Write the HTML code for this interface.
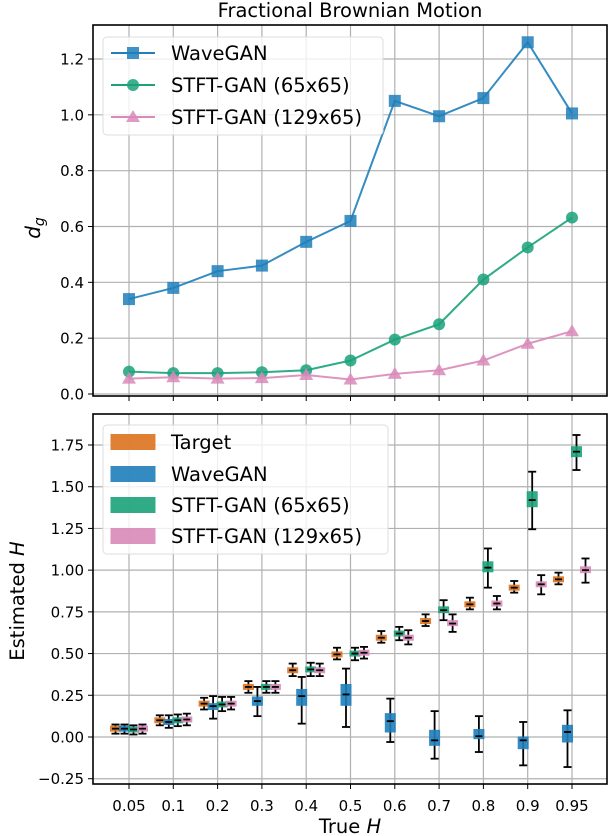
<!DOCTYPE html>
<html><head><meta charset="utf-8"><style>
html,body{margin:0;padding:0;background:#fff;}
svg{display:block;font-family:"DejaVu Sans","Liberation Sans",sans-serif;}
</style></head><body>
<svg id="chart" width="608" height="836" viewBox="0 0 608 836" xmlns="http://www.w3.org/2000/svg">
<text x="350" y="17" font-size="19.5" text-anchor="middle">Fractional Brownian Motion</text>
<g id="topPanel"></g>
<g id="botPanel"></g>
</svg>
<script>
const categories = ["0.05","0.1","0.2","0.3","0.4","0.5","0.6","0.7","0.8","0.9","0.95"];
const waveganDg = [0.34,0.38,0.44,0.46,0.545,0.62,1.05,0.995,1.06,1.26,1.005];
const stft65Dg = [0.08,0.075,0.075,0.078,0.085,0.12,0.195,0.25,0.41,0.525,0.632];
const stft129Dg = [0.055,0.06,0.055,0.057,0.068,0.052,0.072,0.085,0.12,0.18,0.225];
const topYTicks = [0.0,0.2,0.4,0.6,0.8,1.0,1.2];
const topYTickLabels = ["0.0","0.2","0.4","0.6","0.8","1.0","1.2"];
const botYTicks = [-0.25,0,0.25,0.5,0.75,1.0,1.25,1.5,1.75];
const botYTickLabels = ["\u22120.25","0.00","0.25","0.50","0.75","1.00","1.25","1.50","1.75"];
const targetMed = [0.05,0.10,0.20,0.30,0.40,0.495,0.595,0.695,0.795,0.895,0.945];
const targetQ1 = [0.04,0.09,0.19,0.29,0.39,0.485,0.585,0.685,0.785,0.885,0.935];
const targetQ3 = [0.06,0.11,0.21,0.31,0.41,0.505,0.605,0.705,0.805,0.905,0.955];
const targetLo = [0.02,0.07,0.165,0.265,0.365,0.465,0.565,0.665,0.765,0.865,0.915];
const targetHi = [0.075,0.13,0.235,0.335,0.44,0.535,0.635,0.735,0.835,0.935,0.985];
const waveMed = [0.05,0.09,0.185,0.215,0.245,0.255,0.095,-0.02,0.005,-0.02,0.03];
const waveQ1 = [0.04,0.075,0.165,0.19,0.19,0.19,0.03,-0.05,-0.01,-0.07,-0.03];
const waveQ3 = [0.06,0.105,0.20,0.24,0.285,0.315,0.14,0.04,0.045,0.0,0.07];
const waveLo = [0.02,0.055,0.11,0.125,0.08,0.06,-0.03,-0.13,-0.09,-0.17,-0.18];
const waveHi = [0.075,0.13,0.245,0.30,0.36,0.41,0.23,0.155,0.125,0.09,0.16];
const s65Med = [0.045,0.10,0.195,0.30,0.405,0.50,0.62,0.76,1.015,1.42,1.71];
const s65Q1 = [0.035,0.09,0.18,0.29,0.39,0.49,0.605,0.745,0.99,1.38,1.68];
const s65Q3 = [0.055,0.11,0.21,0.31,0.42,0.51,0.635,0.78,1.05,1.47,1.74];
const s65Lo = [0.015,0.065,0.155,0.265,0.365,0.46,0.58,0.70,0.895,1.245,1.60];
const s65Hi = [0.07,0.135,0.24,0.335,0.445,0.535,0.66,0.82,1.13,1.59,1.81];
const s129Med = [0.05,0.105,0.20,0.30,0.40,0.505,0.595,0.68,0.80,0.915,1.0];
const s129Q1 = [0.04,0.095,0.185,0.29,0.385,0.495,0.58,0.67,0.79,0.90,0.985];
const s129Q3 = [0.06,0.115,0.215,0.31,0.415,0.515,0.61,0.695,0.81,0.93,1.02];
const s129Lo = [0.02,0.07,0.165,0.265,0.365,0.47,0.555,0.63,0.765,0.855,0.925];
const s129Hi = [0.075,0.14,0.24,0.335,0.44,0.54,0.64,0.735,0.845,0.97,1.07];

const NS="http://www.w3.org/2000/svg";
function mk(parent,tag,attrs){const e=document.createElementNS(NS,tag);for(const k in attrs)e.setAttribute(k,attrs[k]);parent.appendChild(e);return e;}
const C={blue:"#1f7fbb",orange:"#dc731f",green:"#1aa27a",pink:"#d98ab9"};
const L=93,R=607;
function xPos(i){return 129+i*(572-129)/(categories.length-1);}
const topY=v=>394-v*(394-59)/1.2;
const botY=v=>737-v*(737-445)/1.75;

function drawAxes(g,T,B,yTicks,yLabels,yf,showX){
  for(let i=0;i<categories.length;i++){
    const x=xPos(i);
    const gl=mk(g,"line",{x1:x,x2:x,y1:T,y2:B,stroke:"#b0b0b0","stroke-width":1.2});
    
    
    const tk=mk(g,"line",{x1:x,x2:x,y1:B,y2:B+5,stroke:"#000","stroke-width":1});
    
    
    if(showX){
      const t=mk(g,"text",{x:x,y:B+27,"font-size":15,"text-anchor":"middle"});t.textContent=categories[i];
      
      
    }
  }
  yTicks.forEach((v,i)=>{
    const y=yf(v);
    const gl=mk(g,"line",{x1:L,x2:R,y1:y,y2:y,stroke:"#b0b0b0","stroke-width":1.2});
    
    
    const tk=mk(g,"line",{x1:L-5,x2:L,y1:y,y2:y,stroke:"#000","stroke-width":1});
    
    
    const t=mk(g,"text",{x:L-9,y:y+5.5,"font-size":15,"text-anchor":"end"});t.textContent=yLabels[i];
    
    
  });
}
function frame(g,T,B){
  const r=mk(g,"rect",{x:L,y:T,width:R-L,height:B-T,fill:"none",stroke:"#000","stroke-width":1.6});
  
  
}

const topG=document.getElementById("topPanel");
drawAxes(topG,25,396,topYTicks,topYTickLabels,topY,false);
function series(vals,color,marker,name){
  const pts=vals.map((v,i)=>xPos(i)+","+topY(v)).join(" ");
  const pl=mk(topG,"polyline",{points:pts,fill:"none",stroke:color,"stroke-width":2,opacity:0.9});
  
  
  vals.forEach((v,i)=>{
    const x=xPos(i),y=topY(v);let m;
    if(marker==="s")m=mk(topG,"rect",{x:x-6,y:y-6,width:12,height:12,fill:color,opacity:0.85});
    else if(marker==="o")m=mk(topG,"circle",{cx:x,cy:y,r:6,fill:color,opacity:0.85});
    else m=mk(topG,"polygon",{points:`${x},${y-7} ${x-7},${y+5} ${x+7},${y+5}`,fill:color,opacity:0.85});
    
    
  });
}
series(waveganDg,C.blue,"s","wavegan");
series(stft65Dg,C.green,"o","stft65");
series(stft129Dg,C.pink,"^","stft129");
frame(topG,25,396);
const yl1=mk(topG,"text",{x:0,y:0,"font-size":20,"text-anchor":"middle",transform:"translate(40,228) rotate(-90)","font-style":"italic"});
yl1.innerHTML='d<tspan font-size="14" dy="4">g</tspan>';


const lg=mk(topG,"g",{});


mk(lg,"rect",{x:103,y:37,width:280,height:98,rx:4,fill:"#fff","fill-opacity":0.8,stroke:"#ddd"});
[["WaveGAN",C.blue,"s",53],["STFT-GAN (65x65)",C.green,"o",85],["STFT-GAN (129x65)",C.pink,"^",117]].forEach(([t,c,m,y])=>{
  const e=mk(lg,"g",{});
  
  
  mk(e,"line",{x1:111,x2:155,y1:y,y2:y,stroke:c,"stroke-width":2});
  if(m==="s")mk(e,"rect",{x:127,y:y-6,width:12,height:12,fill:c,opacity:0.85});
  else if(m==="o")mk(e,"circle",{cx:133,cy:y,r:6,fill:c,opacity:0.85});
  else mk(e,"polygon",{points:`133,${y-7} 126,${y+5} 140,${y+5}`,fill:c,opacity:0.85});
  const tx=mk(e,"text",{x:171,y:y+7,"font-size":19.5});tx.textContent=t;
});

const botG=document.getElementById("botPanel");
drawAxes(botG,414,784,botYTicks,botYTickLabels,botY,true);
const groups=[[targetMed,targetQ1,targetQ3,targetLo,targetHi,C.orange,-13.5,"target"],
  [waveMed,waveQ1,waveQ3,waveLo,waveHi,C.blue,-4.5,"wavegan"],
  [s65Med,s65Q1,s65Q3,s65Lo,s65Hi,C.green,4.5,"stft65"],
  [s129Med,s129Q1,s129Q3,s129Lo,s129Hi,C.pink,13.5,"stft129"]];
groups.forEach(([md,q1,q3,lo,hi,c,off,name])=>{
  md.forEach((v,i)=>{
    const x=xPos(i)+off;
    const g=mk(botG,"g",{});
    
    
    mk(g,"line",{x1:x,x2:x,y1:botY(hi[i]),y2:botY(lo[i]),stroke:"#000","stroke-width":1.8});
    mk(g,"line",{x1:x-4,x2:x+4,y1:botY(hi[i]),y2:botY(hi[i]),stroke:"#000","stroke-width":1.8});
    mk(g,"line",{x1:x-4,x2:x+4,y1:botY(lo[i]),y2:botY(lo[i]),stroke:"#000","stroke-width":1.8});
    const yt=botY(q3[i]),yb=botY(q1[i]);
    const h=Math.max(yb-yt,5);
    mk(g,"rect",{x:x-5,y:(yt+yb)/2-h/2,width:10,height:h,fill:c,stroke:c,"stroke-width":1,opacity:0.9});
    mk(g,"line",{x1:x-3.5,x2:x+3.5,y1:botY(v),y2:botY(v),stroke:"#000","stroke-width":1.8});
  });
});
frame(botG,414,784);
const yl2=mk(botG,"text",{x:0,y:0,"font-size":19.5,"text-anchor":"middle",transform:"translate(24,601) rotate(-90)"});
yl2.innerHTML='Estimated <tspan font-style="italic">H</tspan>';


const xl=mk(botG,"text",{x:350,y:833,"font-size":19.5,"text-anchor":"middle"});
xl.innerHTML='True <tspan font-style="italic">H</tspan>';


const lg2=mk(botG,"g",{});


mk(lg2,"rect",{x:103,y:425,width:285,height:129,rx:4,fill:"#fff","fill-opacity":0.8,stroke:"#ddd"});
[["Target",C.orange,442],["WaveGAN",C.blue,474],["STFT-GAN (65x65)",C.green,505],["STFT-GAN (129x65)",C.pink,536]].forEach(([t,c,y])=>{
  const e=mk(lg2,"g",{});
  
  
  mk(e,"rect",{x:111,y:y-7.5,width:44,height:15,fill:c,stroke:c,opacity:0.9});
  const tx=mk(e,"text",{x:171,y:y+7,"font-size":19.5});tx.textContent=t;
});
</script>
</body></html>
